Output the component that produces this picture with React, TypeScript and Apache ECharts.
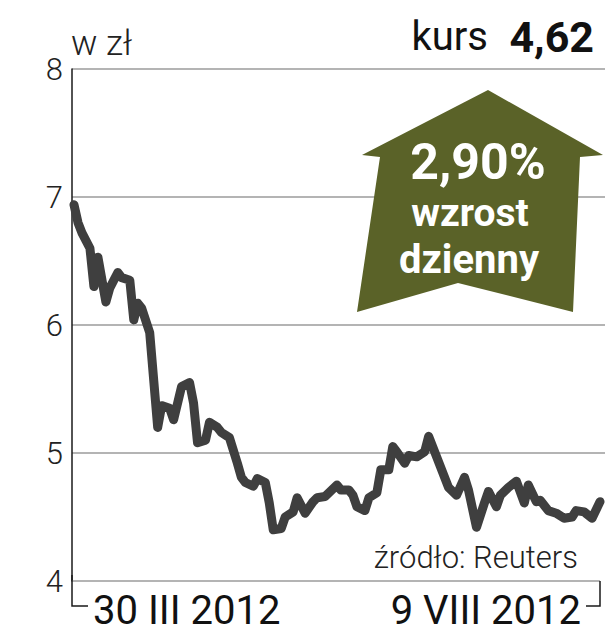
import React, { useEffect, useRef } from 'react';
import * as echarts from 'echarts';

// Kurs (zł) – daty sesji
const dates = [
  '2012-03-30', '2012-03-31', '2012-04-01', '2012-04-03', '2012-04-04', '2012-04-05', '2012-04-07', '2012-04-08',
  '2012-04-10', '2012-04-11', '2012-04-13', '2012-04-14', '2012-04-15', '2012-04-16', '2012-04-18', '2012-04-20',
  '2012-04-21', '2012-04-23', '2012-04-24', '2012-04-26', '2012-04-28', '2012-04-29', '2012-04-30', '2012-05-02',
  '2012-05-03', '2012-05-05', '2012-05-06', '2012-05-08', '2012-05-10', '2012-05-11', '2012-05-12', '2012-05-14',
  '2012-05-15', '2012-05-17', '2012-05-18', '2012-05-19', '2012-05-21', '2012-05-22', '2012-05-24', '2012-05-25',
  '2012-05-27', '2012-05-29', '2012-05-30', '2012-06-01', '2012-06-04', '2012-06-05', '2012-06-07', '2012-06-08',
  '2012-06-09', '2012-06-11', '2012-06-12', '2012-06-14', '2012-06-15', '2012-06-17', '2012-06-18', '2012-06-19',
  '2012-06-21', '2012-06-22', '2012-06-24', '2012-06-26', '2012-06-27', '2012-06-29', '2012-06-30', '2012-07-02',
  '2012-07-04', '2012-07-06', '2012-07-07', '2012-07-09', '2012-07-11', '2012-07-12', '2012-07-14', '2012-07-15',
  '2012-07-17', '2012-07-19', '2012-07-21', '2012-07-22', '2012-07-24', '2012-07-25', '2012-07-27', '2012-07-29',
  '2012-07-31', '2012-08-02', '2012-08-03', '2012-08-05', '2012-08-07', '2012-08-09',
];

const prices = [
  6.94, 6.8, 6.72, 6.6, 6.3, 6.53, 6.18, 6.29,
  6.41, 6.37, 6.35, 6.04, 6.17, 6.13, 5.94, 5.2,
  5.37, 5.35, 5.26, 5.52, 5.55, 5.39, 5.08, 5.1,
  5.24, 5.2, 5.16, 5.12, 4.92, 4.81, 4.77, 4.74,
  4.8, 4.77, 4.61, 4.4, 4.41, 4.5, 4.54, 4.65,
  4.53, 4.62, 4.65, 4.66, 4.75, 4.71, 4.71, 4.67,
  4.58, 4.55, 4.65, 4.69, 4.87, 4.87, 5.05, 5.01,
  4.92, 4.98, 4.97, 5.01, 5.13, 4.97, 4.89, 4.73,
  4.67, 4.81, 4.71, 4.42, 4.61, 4.7, 4.58, 4.67,
  4.73, 4.78, 4.61, 4.75, 4.62, 4.63, 4.55, 4.53,
  4.49, 4.5, 4.55, 4.54, 4.49, 4.62,
];

const yMin = 4;
const yMax = 8;
const yStep = 1;

const unitLabel = 'w zł';
const priceLabel = 'kurs';
const priceValue = '4,62';
const changeValue = '2,90%';
const changeLine1 = 'wzrost';
const changeLine2 = 'dzienny';
const startLabel = '30 III 2012';
const endLabel = '9 VIII 2012';
const sourceLabel = 'źródło: Reuters';

const FONT = 'Roboto, "Noto Sans", sans-serif';

export default function App() {
  const ref = useRef<HTMLDivElement>(null);

  useEffect(() => {
    if (!ref.current) return;
    const chart = echarts.init(ref.current, null, { renderer: 'svg' });
    const data = dates.map((d, i) => [d, prices[i]]);
    chart.setOption({
      animation: false,
      backgroundColor: '#ffffff',
      grid: { left: 72, right: 0, top: 69, bottom: 59, containLabel: false },
      xAxis: {
        type: 'time',
        min: '2012-03-29T12:00:00',
        max: '2012-08-10T06:00:00',
        axisLine: { show: false },
        axisTick: { show: false },
        axisLabel: { show: false },
        splitLine: { show: false },
      },
      yAxis: {
        type: 'value',
        min: yMin,
        max: yMax,
        interval: yStep,
        axisLine: { show: true, lineStyle: { color: '#1a1a1a', width: 1.5 } },
        axisTick: { show: false },
        axisLabel: {
          fontFamily: FONT,
          fontSize: 31,
          fontWeight: 300,
          color: '#222',
          margin: 9,
        },
        splitLine: {
          show: true,
          showMinLine: false,
          lineStyle: { color: '#9b9b9b', width: 1.5 },
        },
      },
      series: [
        {
          type: 'line',
          data,
          symbol: 'none',
          lineStyle: { color: '#3f3f3f', width: 9, cap: 'round', join: 'round' },
          z: 3,
        },
      ],
      graphic: [
        {
          type: 'polyline',
          shape: { points: [[72, 581], [600, 581]] },
          style: { stroke: '#9b9b9b', lineWidth: 1.5 },
          z: 5,
        },
        {
          type: 'polyline',
          shape: { points: [[72, 575], [72, 606], [88, 606]] },
          style: { stroke: '#1a1a1a', lineWidth: 1.5, fill: 'none' },
          z: 5,
        },
        {
          type: 'polyline',
          shape: { points: [[600, 581], [600, 606], [586, 606]] },
          style: { stroke: '#1a1a1a', lineWidth: 1.5, fill: 'none' },
          z: 5,
        },
        {
          type: 'polygon',
          shape: {
            points: [[488, 90], [603, 155], [580, 157], [573, 312], [458, 283], [357, 312], [380, 157], [362, 155]],
          },
          style: { fill: '#5a6228' },
          z: 10,
        },
        {
          type: 'text',
          x: 71, y: 43, z: 11,
          style: { text: unitLabel, font: `300 35px ${FONT}`, fill: '#222', textAlign: 'left', textVerticalAlign: 'middle' },
        },
        {
          type: 'text',
          x: 488, y: 36, z: 11,
          style: { text: priceLabel, font: `400 40px ${FONT}`, fill: '#111', textAlign: 'right', textVerticalAlign: 'middle' },
        },
        {
          type: 'text',
          x: 594, y: 37, z: 11,
          style: { text: priceValue, font: `700 43px ${FONT}`, fill: '#111', textAlign: 'right', textVerticalAlign: 'middle' },
        },
        {
          type: 'text',
          x: 478, y: 162, z: 11,
          style: { text: changeValue, font: `700 50px ${FONT}`, lineHeight: 40, fill: '#ffffff', textAlign: 'center', textVerticalAlign: 'middle' },
        },
        {
          type: 'text',
          x: 470, y: 213, z: 11,
          style: { text: changeLine1, font: `700 39px ${FONT}`, lineHeight: 36, fill: '#ffffff', textAlign: 'center', textVerticalAlign: 'middle' },
        },
        {
          type: 'text',
          x: 469, y: 259, z: 11,
          style: { text: changeLine2, font: `700 40px ${FONT}`, lineHeight: 36, fill: '#ffffff', textAlign: 'center', textVerticalAlign: 'middle' },
        },
        {
          type: 'text',
          x: 578, y: 557, z: 11,
          style: { text: sourceLabel, font: `300 31px ${FONT}`, fill: '#222', textAlign: 'right', textVerticalAlign: 'middle' },
        },
        {
          type: 'text',
          x: 93, y: 610, z: 11,
          style: { text: startLabel, font: `400 40px ${FONT}`, fill: '#111', textAlign: 'left', textVerticalAlign: 'middle' },
        },
        {
          type: 'text',
          x: 581, y: 610, z: 11,
          style: { text: endLabel, font: `400 40px ${FONT}`, fill: '#111', textAlign: 'right', textVerticalAlign: 'middle' },
        },
      ],
    });
    return () => chart.dispose();
  }, []);

  return (
    <div
      ref={ref}
      style={{ position: 'absolute', left: 0, top: 0, width: 605, height: 640, background: '#ffffff' }}
    />
  );
}
